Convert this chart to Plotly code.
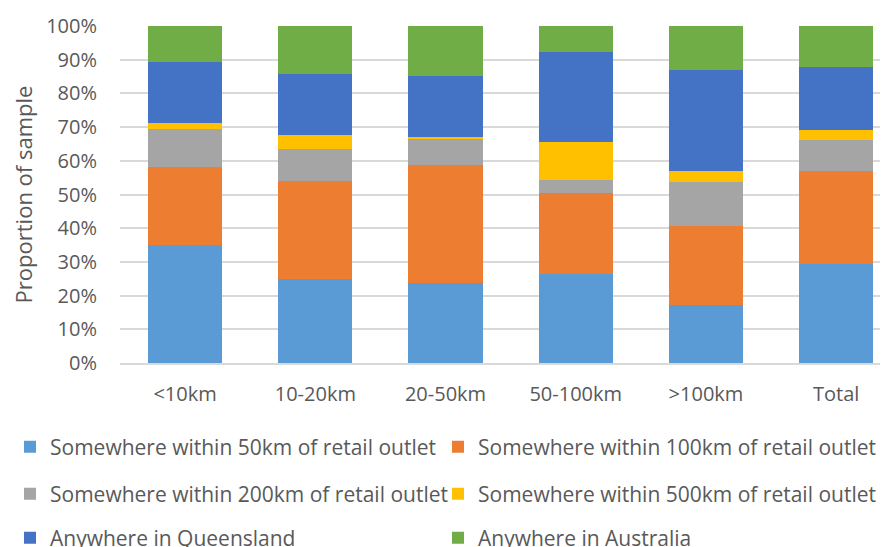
import plotly.graph_objects as go

categories = ["<10km", "10-20km", "20-50km", "50-100km", ">100km", "Total"]
series_names = [
    "Somewhere within 50km of retail outlet",
    "Somewhere within 100km of retail outlet",
    "Somewhere within 200km of retail outlet",
    "Somewhere within 500km of retail outlet",
    "Anywhere in Queensland",
    "Anywhere in Australia",
]
within_50 = [35.0, 24.9, 23.8, 26.4, 17.1, 29.4]
within_100 = [23.3, 29.2, 34.9, 24.1, 23.7, 27.7]
within_200 = [11.1, 9.4, 7.9, 3.8, 12.9, 9.2]
within_500 = [1.8, 4.1, 0.5, 11.4, 3.2, 2.8]
queensland = [18.0, 18.3, 18.2, 26.7, 30.1, 18.7]
australia = [10.8, 14.1, 14.7, 7.6, 13.0, 12.2]
y_ticks = [0, 10, 20, 30, 40, 50, 60, 70, 80, 90, 100]
y_tick_labels = [f"{t}%" for t in y_ticks]

colors = ["#5B9BD5", "#ED7D31", "#A5A5A5", "#FFC000", "#4472C4", "#70AD47"]
values = [within_50, within_100, within_200, within_500, queensland, australia]

FONT = "Open Sans"
TXT = "#595959"
W, H = 880, 539  # page body has an 8px margin in the 888x547 window
ML, MT, MB = 112, 18, 184
PW, PH = W - ML, H - MT - MB


def px_x(x):
    return (x - ML) / PW


def px_y(y):
    return (H - MB - y) / PH


# one legend per entry: two columns, three rows
legend_cols = [2, 430]
legend_rows = [439, 486, 530]

fig = go.Figure()
layout_legends = {}
for i, (name, vals, col) in enumerate(zip(series_names, values, colors)):
    lid = "legend" if i == 0 else f"legend{i + 1}"
    fig.add_trace(go.Bar(
        x=categories, y=vals, name=name,
        marker=dict(color=col, line=dict(width=0)),
        legend=lid,
    ))
    layout_legends[lid] = dict(
        orientation="h", xanchor="left", yanchor="middle",
        x=px_x(legend_cols[i % 2]), y=px_y(legend_rows[i // 2]),
        font=dict(family=FONT, size=21, color=TXT),
        bgcolor="rgba(0,0,0,0)",
    )

fig.update_layout(
    barmode="stack",
    bargap=0.43,
    width=W, height=H,
    margin=dict(l=ML, r=0, t=MT, b=MB, pad=0, autoexpand=False),
    paper_bgcolor="white", plot_bgcolor="white",
    font=dict(family=FONT, color=TXT, size=20),
    xaxis=dict(
        range=[-0.5, 5.398], showgrid=False, ticks="", showline=True,
        linecolor="#D9D9D9", linewidth=1.5,
        tickfont=dict(family=FONT, size=20, color=TXT),
        ticklabelstandoff=12,
    ),
    yaxis=dict(
        range=[0, 100], tickvals=y_ticks, ticktext=y_tick_labels,
        showgrid=True, gridcolor="#D9D9D9", gridwidth=1.5,
        zeroline=False, ticks="", ticklabelstandoff=22,
        tickfont=dict(family=FONT, size=20, color=TXT),
        title=dict(text="Proportion of sample", standoff=18,
                   font=dict(family=FONT, size=22, color=TXT)),
    ),
    showlegend=True,
    **layout_legends,
)
fig.write_html("out.html")
